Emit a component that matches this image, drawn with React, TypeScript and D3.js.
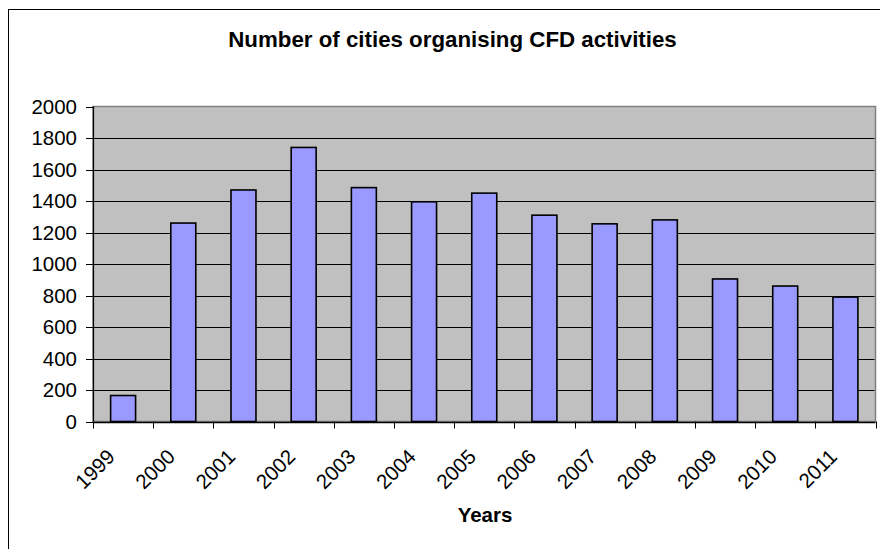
import React from "react";
import * as d3 from "d3";

// Yearly count of cities that organised CFD activities
const years: string[] = [
  "1999", "2000", "2001", "2002", "2003", "2004", "2005",
  "2006", "2007", "2008", "2009", "2010", "2011",
];
const cityCounts: number[] = [
  165, 1260, 1470, 1740, 1485, 1395, 1450, 1310, 1255, 1280, 905, 860, 790,
];
const yTicks: number[] = [0, 200, 400, 600, 800, 1000, 1200, 1400, 1600, 1800, 2000];

const chartTitle = "Number of cities organising CFD activities";
const xAxisTitle = "Years";

const WIDTH = 880;
const HEIGHT = 549;
const plot = { left: 93, right: 875.5, top: 106.5, bottom: 421.5 };
const FONT = "'Liberation Sans', Arial, sans-serif";

export default function App() {
  // category slots (for tick marks) and bars centred within them
  const cat = d3.scaleBand<string>().domain(years).range([plot.left, plot.right]).padding(0);
  const x = d3
    .scaleBand<string>()
    .domain(years)
    .range([plot.left, plot.right])
    .paddingInner(0.585)
    .paddingOuter(0.2925);
  const y = d3.scaleLinear().domain([0, 2000]).range([plot.bottom, plot.top]);

  const crisp = (v: number) => Math.round(v) + 0.5;
  const boundaries = years.map((d) => cat(d) as number).concat([plot.right]);

  return (
    <svg
      width={WIDTH}
      height={HEIGHT}
      style={{ position: "absolute", left: 0, top: 0, background: "#fff" }}
      fontFamily={FONT}
    >
      {/* outer chart frame */}
      <rect x={8.5} y={9.5} width={WIDTH + 10} height={HEIGHT + 10} fill="#fff" stroke="#000" strokeWidth={1} />

      <text x={452.5} y={47} textAnchor="middle" fontSize={22.3} fontWeight="bold" fill="#000">
        {chartTitle}
      </text>

      {/* plot area */}
      <rect
        x={plot.left}
        y={plot.top}
        width={plot.right - plot.left}
        height={plot.bottom - plot.top}
        fill="#C0C0C0"
        stroke="#808080"
        strokeWidth={1.5}
      />

      {/* horizontal gridlines */}
      {yTicks
        .filter((t) => t > 0 && t < 2000)
        .map((t) => (
          <line
            key={`g${t}`}
            x1={plot.left}
            x2={plot.right - 1}
            y1={crisp(y(t))}
            y2={crisp(y(t))}
            stroke="#000"
            strokeWidth={1}
          />
        ))}

      {/* bars */}
      {years.map((d, i) => (
        <rect
          key={d}
          x={x(d) as number}
          y={y(cityCounts[i])}
          width={x.bandwidth()}
          height={y(0) - y(cityCounts[i])}
          fill="#9999FF"
          stroke="#000"
          strokeWidth={1.6}
        />
      ))}

      {/* y axis */}
      <line x1={crisp(plot.left)} x2={crisp(plot.left)} y1={plot.top} y2={plot.bottom} stroke="#000" strokeWidth={1.2} />
      {yTicks.map((t) => (
        <g key={`y${t}`}>
          <line x1={plot.left - 7} x2={plot.left} y1={crisp(y(t))} y2={crisp(y(t))} stroke="#000" strokeWidth={1} />
          <text x={77} y={y(t) + 7} textAnchor="end" fontSize={20.5} fill="#000">
            {t}
          </text>
        </g>
      ))}

      {/* x axis */}
      <line x1={plot.left} x2={plot.right} y1={crisp(plot.bottom)} y2={crisp(plot.bottom)} stroke="#000" strokeWidth={1.6} />
      {boundaries.map((b, i) => (
        <line key={`t${i}`} x1={crisp(b)} x2={crisp(b)} y1={plot.bottom} y2={plot.bottom + 7} stroke="#000" strokeWidth={1} />
      ))}
      {years.map((d) => {
        const cx = (cat(d) as number) + cat.bandwidth() / 2 - 7;
        const cy = 458;
        return (
          <text
            key={`l${d}`}
            x={cx}
            y={cy}
            textAnchor="end"
            fontSize={20.5}
            fill="#000"
            transform={`rotate(-45, ${cx}, ${cy})`}
          >
            {d}
          </text>
        );
      })}

      <text x={485} y={522} textAnchor="middle" fontSize={20.5} fontWeight="bold" fill="#000">
        {xAxisTitle}
      </text>
    </svg>
  );
}
